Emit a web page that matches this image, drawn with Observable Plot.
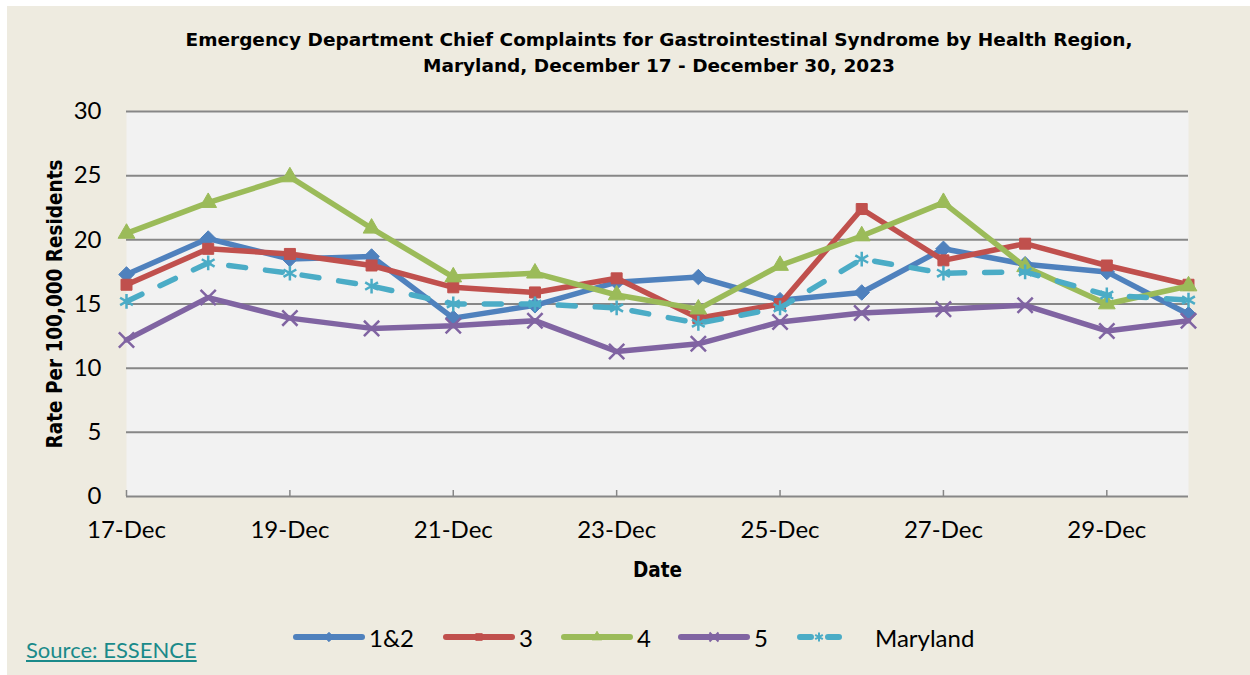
<!DOCTYPE html>
<html>
<head>
<meta charset="utf-8">
<script src="https://cdn.jsdelivr.net/npm/d3@7"></script>
<script src="https://cdn.jsdelivr.net/npm/@observablehq/plot@0.6"></script>
<style>
  html, body { margin: 0; padding: 0; background: #fff; }
  #wrap { position: relative; width: 1250px; height: 675px; background: #EEEBE0;
          box-shadow: inset 7px 6px 0 #fff; overflow: hidden; }
  #title { box-sizing: border-box; height: 85px; padding-top: 27px; padding-left: 68px;
           text-align: center; font-family: "DejaVu Sans", sans-serif;
           font-weight: bold; font-size: 18.5px; line-height: 26px; color: #000; white-space: nowrap; }
  #chart svg { display: block; background: transparent; }
  #legend { position: relative; height: 85px; font-family: Lato, "Open Sans", sans-serif; font-size: 24px; color: #000; }
  .item { position: absolute; top: 34px; height: 26px; display: flex; align-items: center; }
  .item span { margin-left: 4px; }
  #source { position: absolute; left: 26px; top: 46px; color: #1a8a8a; text-decoration: underline;
            font-family: Lato, "Open Sans", sans-serif; font-size: 22px; }
</style>
</head>
<body>
<div id="wrap">
  <div id="title">Emergency Department Chief Complaints for Gastrointestinal Syndrome by Health Region,<br>Maryland, December 17 - December 30, 2023</div>
  <div id="chart"></div>
  <div id="legend"></div>
</div>
<script>
// ---- data ----
const days = [17, 18, 19, 20, 21, 22, 23, 24, 25, 26, 27, 28, 29, 30];
const tickDays = [17, 19, 21, 23, 25, 27, 29];
const tickLabels = ["17-Dec", "19-Dec", "21-Dec", "23-Dec", "25-Dec", "27-Dec", "29-Dec"];
const yTicks = [0, 5, 10, 15, 20, 25, 30];
const seriesNames = ["1&2", "3", "4", "5", "Maryland"];
const region12 = [17.3, 20.1, 18.5, 18.7, 13.9, 14.9, 16.7, 17.1, 15.3, 15.9, 19.3, 18.1, 17.5, 14.2];
const region3  = [16.5, 19.3, 18.9, 18.0, 16.3, 15.9, 17.0, 13.9, 15.0, 22.4, 18.4, 19.7, 18.0, 16.5];
const region4  = [20.5, 22.9, 24.9, 20.9, 17.1, 17.4, 15.7, 14.6, 18.0, 20.3, 22.9, 17.9, 15.0, 16.4];
const region5  = [12.2, 15.5, 13.9, 13.1, 13.3, 13.7, 11.3, 11.9, 13.6, 14.3, 14.6, 14.9, 12.9, 13.7];
const maryland = [15.2, 18.2, 17.4, 16.4, 15.0, 15.0, 14.7, 13.5, 14.7, 18.5, 17.4, 17.5, 15.7, 15.3];

const colors = ["#4F81BD", "#C0504D", "#9BBB59", "#8064A2", "#4BACC6"];
const symbols = ["diamond2", "square2", "triangle2", "times", "asterisk"];
const d3symbols = {diamond2: d3.symbolDiamond2, square2: d3.symbolSquare2, triangle2: d3.symbolTriangle2, times: d3.symbolTimes, asterisk: d3.symbolAsterisk};

const valuesBySeries = [region12, region3, region4, region5, maryland];
const rows = [];
seriesNames.forEach((s, i) => days.forEach((d, j) => rows.push({series: s, day: d, value: valuesBySeries[i][j]})));

const W = 1250, H = 505, mt = 26, mb = 94, ml = 126, mr = 62;
const tickFont = "Lato, 'Open Sans', sans-serif";
const boldFont = "'DejaVu Sans Condensed', 'DejaVu Sans', sans-serif";

const marks = [
  Plot.frame({fill: "#F2F2F2", stroke: null}),
  Plot.ruleY(yTicks, {stroke: "#878787", strokeWidth: 2}),
  Plot.axisX({ticks: tickDays, tickSize: 6, dy: -6, tickFormat: () => "", label: null, stroke: "#878787", strokeWidth: 1.5}),
  Plot.axisY({ticks: yTicks, tickSize: 0, tickPadding: 25, label: null, fontSize: 24, fontFamily: tickFont, fill: "#000"}),
  Plot.axisX({ticks: tickDays, tickSize: 0, tickPadding: 24, label: null, tickFormat: d => tickLabels[tickDays.indexOf(d)], fontSize: 24, fontFamily: tickFont, fill: "#000"}),
  Plot.text(["Rate Per 100,000 Residents"], {frameAnchor: "left", dx: -71, rotate: -90, textAnchor: "middle", lineAnchor: "middle", fontSize: 20.5, fontWeight: "bold", fontFamily: boldFont, fill: "#000"}),
  Plot.text(["Date"], {frameAnchor: "bottom", dy: 74, lineAnchor: "middle", fontSize: 20.5, fontWeight: "bold", fontFamily: boldFont, fill: "#000"})
];

seriesNames.forEach((s, i) => {
  const data = rows.filter(r => r.series === s);
  const dashed = s === "Maryland";
  marks.push(Plot.line(data, {x: "day", y: "value", stroke: colors[i], strokeWidth: 5.5,
    strokeLinejoin: "round", strokeLinecap: "round",
    strokeDasharray: dashed ? "17,20" : null}));
  marks.push(Plot.dot(data, {x: "day", y: "value", symbol: () => symbols[i], fill: colors[i], stroke: colors[i],
    strokeWidth: (i >= 3) ? 2.5 : 1, r: i === 0 ? 7 : (i === 2 ? 8 : 7)}));
});

const chart = Plot.plot({
  width: W, height: H,
  marginTop: mt, marginBottom: mb, marginLeft: ml, marginRight: mr,
  style: {background: "transparent", overflow: "visible"},
  x: {domain: [17, 30]},
  y: {domain: [0, 30]},
  symbol: {type: "identity"},
  marks
});
document.getElementById("chart").appendChild(chart);

// ---- legend ----
const legendLeft = [293, 443, 561, 678, 797];
const legend = document.getElementById("legend");
const ns = "http://www.w3.org/2000/svg";
seriesNames.forEach((s, i) => {
  const item = document.createElement("div");
  item.className = "item";
  item.style.left = legendLeft[i] + "px";
  const dashed = s === "Maryland";
  const sw = dashed ? 76 : 72;
  const svg = document.createElementNS(ns, "svg");
  svg.setAttribute("width", sw); svg.setAttribute("height", 26);
  const line = document.createElementNS(ns, "line");
  line.setAttribute("x1", 3); line.setAttribute("x2", dashed ? 42 : sw - 3);
  line.setAttribute("y1", 13); line.setAttribute("y2", 13);
  line.setAttribute("stroke", colors[i]); line.setAttribute("stroke-width", 6);
  line.setAttribute("stroke-linecap", "round");
  if (dashed) line.setAttribute("stroke-dasharray", "11,17");
  svg.appendChild(line);
  const sym = d3.symbol(d3symbols[symbols[i]], i === 2 ? 70 : 55)();
  const p = document.createElementNS(ns, "path");
  p.setAttribute("d", sym);
  p.setAttribute("transform", `translate(${dashed ? 22 : sw / 2},13)`);
  p.setAttribute("fill", colors[i]); p.setAttribute("stroke", colors[i]);
  p.setAttribute("stroke-width", i >= 3 ? 2 : 1);
  svg.appendChild(p);
  item.appendChild(svg);
  const t = document.createElement("span");
  t.textContent = s;
  if (dashed) t.style.marginLeft = "2px";
  item.appendChild(t);
  legend.appendChild(item);
});
const src = document.createElement("div");
src.id = "source";
src.textContent = "Source: ESSENCE";
legend.appendChild(src);
</script>
</body>
</html>
